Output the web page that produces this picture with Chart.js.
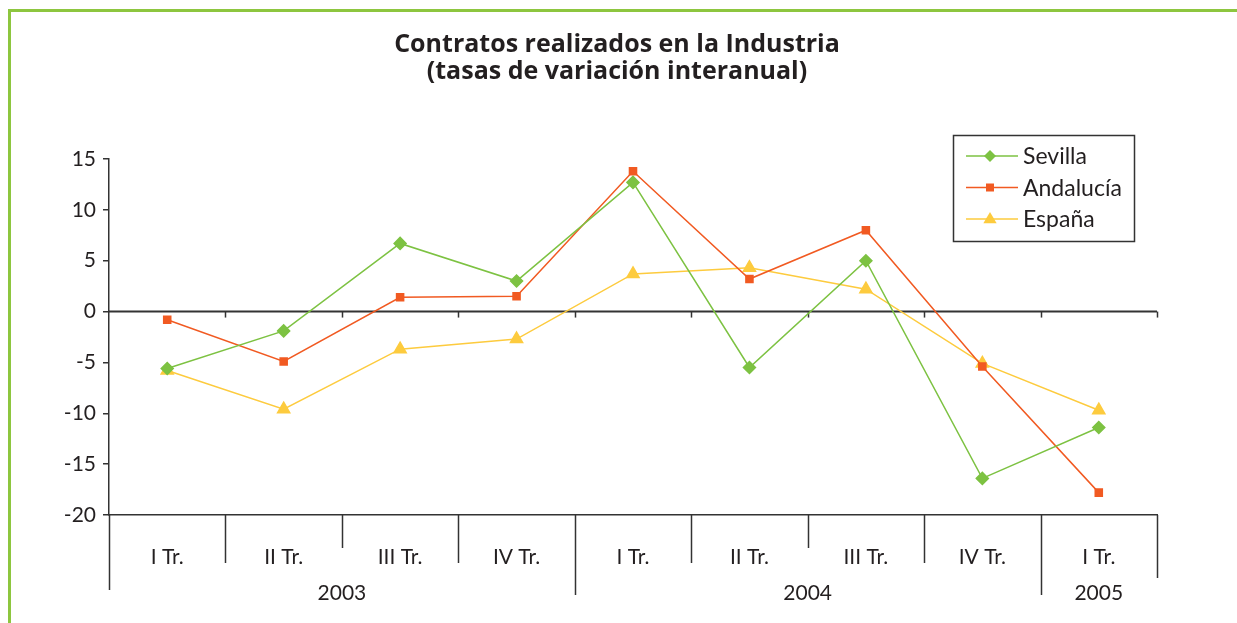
<!DOCTYPE html>
<html>
<head>
<meta charset="utf-8">
<script src="https://cdn.jsdelivr.net/npm/chart.js"></script>
<style>
  html, body { margin: 0; padding: 0; background: #fff; }
  #wrap { position: relative; width: 1237px; height: 623px; }
</style>
</head>
<body>
<div id="wrap"><canvas id="industryChart"></canvas></div>
<script>
(function() {
    'use strict';

    // Quarters and the years they belong to
    const quarters = ['I Tr.', 'II Tr.', 'III Tr.', 'IV Tr.', 'I Tr.', 'II Tr.', 'III Tr.', 'IV Tr.', 'I Tr.'];
    const years = ['2003', '2004', '2005'];
    const quartersPerYear = [4, 4, 1];

    // Year-on-year change (%)
    const sevilla = [-5.6, -1.9, 6.7, 3.0, 12.7, -5.5, 5.0, -16.4, -11.4];
    const andalucia = [-0.8, -4.9, 1.4, 1.5, 13.8, 3.2, 8.0, -5.4, -17.8];
    const espana = [-5.8, -9.6, -3.7, -2.7, 3.7, 4.3, 2.2, -5.1, -9.7];

    const yTicks = [15, 10, 5, 0, -5, -10, -15, -20];

    const FONT = 'Lato, "Open Sans", sans-serif';
    const TITLE_FONT = '"Open Sans", Lato, sans-serif';
    const INK = '#231f20';
    const AXIS = '#333333';

    // Excel-like frame: green page border, zero line, category boxes, years, legend
    const frame = {
        id: 'frame',
        afterLayout(chart) {
            // centre the title on the page, not on the narrowed layout box
            if (chart.titleBlock) {
                chart.titleBlock.left = 0;
                chart.titleBlock.right = 1234;
            }
        },
        beforeDraw(chart) {
            const ctx = chart.ctx;
            ctx.save();
            ctx.fillStyle = '#8dc63f';
            ctx.fillRect(8, 9, chart.width, 3);
            ctx.fillRect(8, 9, 3, chart.height);
            ctx.restore();
        },
        beforeDatasetsDraw(chart) {
            const ctx = chart.ctx, x = chart.scales.x, y = chart.scales.y;
            const y0 = y.getPixelForValue(0);
            const w = (x.right - x.left) / quarters.length;
            ctx.save();
            ctx.strokeStyle = AXIS;
            ctx.lineWidth = 2;
            ctx.beginPath();
            ctx.moveTo(x.left, y0);
            ctx.lineTo(x.right, y0);
            ctx.stroke();
            ctx.lineWidth = 1.5;
            for (let i = 1; i <= quarters.length; i++) {
                const bx = Math.round(x.getPixelForValue(i - 1) + w / 2) + 0.5;
                ctx.beginPath();
                ctx.moveTo(bx, y0);
                ctx.lineTo(bx, y0 + 6);
                ctx.stroke();
            }
            ctx.restore();
        },
        afterDraw(chart) {
            const ctx = chart.ctx, x = chart.scales.x, area = chart.chartArea;
            const w = (x.right - x.left) / quarters.length;
            const bottom = area.bottom;

            // which boundaries start a year, and which sit in the middle of one
            const yearEdges = [], yearMids = [];
            let start = 0;
            quartersPerYear.forEach(n => {
                if (n > 1 && n % 2 === 0) yearMids.push(start + n / 2);
                start += n;
                yearEdges.push(start);
            });

            ctx.save();
            ctx.strokeStyle = AXIS;
            ctx.lineWidth = 1.5;
            // y axis runs down past the plot
            ctx.beginPath();
            ctx.moveTo(Math.round(area.left) + 0.5, bottom);
            ctx.lineTo(Math.round(area.left) + 0.5, bottom + 75);
            ctx.stroke();
            for (let i = 1; i <= quarters.length; i++) {
                const bx = Math.round(x.getPixelForValue(i - 1) + w / 2) + 0.5;
                let len = 48;
                if (i === quarters.length) len = 63;
                else if (yearEdges.includes(i)) len = 80;
                else if (yearMids.includes(i)) len = 33;
                ctx.beginPath();
                ctx.moveTo(bx, bottom);
                ctx.lineTo(bx, bottom + len);
                ctx.stroke();
            }

            // year labels under their quarters
            ctx.fillStyle = INK;
            ctx.font = '21px ' + FONT;
            ctx.textAlign = 'center';
            ctx.textBaseline = 'middle';
            start = 0;
            years.forEach((yr, k) => {
                const n = quartersPerYear[k];
                const cx = (x.getPixelForValue(start) + x.getPixelForValue(start + n - 1)) / 2;
                ctx.fillText(yr, cx, bottom + 78);
                start += n;
            });

            // legend box, top right inside the plot
            const bw = 181, bh = 106;
            const bl = area.right - 23 - bw, bt = area.top - 24;
            ctx.lineWidth = 1.5;
            ctx.strokeStyle = AXIS;
            ctx.strokeRect(bl + 0.5, bt + 0.5, bw, bh);
            ctx.font = '23px ' + FONT;
            ctx.textAlign = 'left';
            chart.data.datasets.forEach((ds, k) => {
                const ly = bt + 21 + k * 31.5;
                ctx.strokeStyle = ds.borderColor;
                ctx.lineWidth = 1.5;
                ctx.beginPath();
                ctx.moveTo(bl + 13, ly);
                ctx.lineTo(bl + 65, ly);
                ctx.stroke();
                ctx.fillStyle = ds.pointBackgroundColor;
                ctx.beginPath();
                const px = bl + 37, r = ds.pointRadius;
                if (ds.pointStyle === 'rectRot') {
                    ctx.moveTo(px, ly - r); ctx.lineTo(px + r, ly);
                    ctx.lineTo(px, ly + r); ctx.lineTo(px - r, ly);
                } else if (ds.pointStyle === 'triangle') {
                    ctx.moveTo(px, ly - r); ctx.lineTo(px + r * 0.95, ly + r * 0.6);
                    ctx.lineTo(px - r * 0.95, ly + r * 0.6);
                } else {
                    ctx.rect(px - r * 0.8, ly - r * 0.8, r * 1.6, r * 1.6);
                }
                ctx.closePath();
                ctx.fill();
                ctx.fillStyle = INK;
                ctx.fillText(ds.label, bl + 70, ly + 1);
            });
            ctx.restore();
        }
    };

    const ctx = document.getElementById('industryChart').getContext('2d');

    new Chart(ctx, {
        type: 'line',
        data: {
            labels: quarters,
            datasets: [{
                label: 'Sevilla',
                data: sevilla,
                borderColor: '#7dc242',
                pointBackgroundColor: '#7dc242',
                pointBorderColor: '#7dc242',
                pointStyle: 'rectRot',
                pointRadius: 6,
                borderWidth: 1.5,
                tension: 0
            }, {
                label: 'Andalucía',
                data: andalucia,
                borderColor: '#f15a22',
                pointBackgroundColor: '#f15a22',
                pointBorderColor: '#f15a22',
                pointStyle: 'rect',
                pointRadius: 5,
                borderWidth: 1.5,
                tension: 0
            }, {
                label: 'España',
                data: espana,
                borderColor: '#fdcb3e',
                pointBackgroundColor: '#fdcb3e',
                pointBorderColor: '#fdcb3e',
                pointStyle: 'triangle',
                pointRadius: 7,
                borderWidth: 1.5,
                tension: 0
            }]
        },
        options: {
            responsive: true,
            maintainAspectRatio: false,
            animation: false,
            layout: { padding: { left: 0, right: 80, top: 0, bottom: 0 } },
            scales: {
                x: {
                    offset: true,
                    grid: { display: false, drawTicks: false },
                    border: { display: true, color: AXIS, width: 1.5 },
                    ticks: { color: INK, font: { family: FONT, size: 21 }, padding: 30, maxRotation: 0, autoSkip: false },
                    afterFit: s => { s.height = 108; }
                },
                y: {
                    min: Math.min(...yTicks),
                    max: Math.max(...yTicks),
                    grid: { drawOnChartArea: false, drawTicks: true, tickLength: 6, color: AXIS, lineWidth: 1.5 },
                    border: { display: true, color: AXIS, width: 1.5 },
                    ticks: { stepSize: 5, color: INK, font: { family: FONT, size: 21 }, padding: 7 },
                    afterFit: s => { s.width = 109; }
                }
            },
            plugins: {
                legend: { display: false },
                tooltip: { enabled: false },
                title: {
                    display: true,
                    text: ['Contratos realizados en la Industria', '(tasas de variación interanual)'],
                    color: INK,
                    font: { family: TITLE_FONT, size: 25, weight: 'bold', lineHeight: 1.1 },
                    padding: { top: 31, bottom: 73 }
                }
            }
        },
        plugins: [frame]
    });
})();
</script>
</body>
</html>
